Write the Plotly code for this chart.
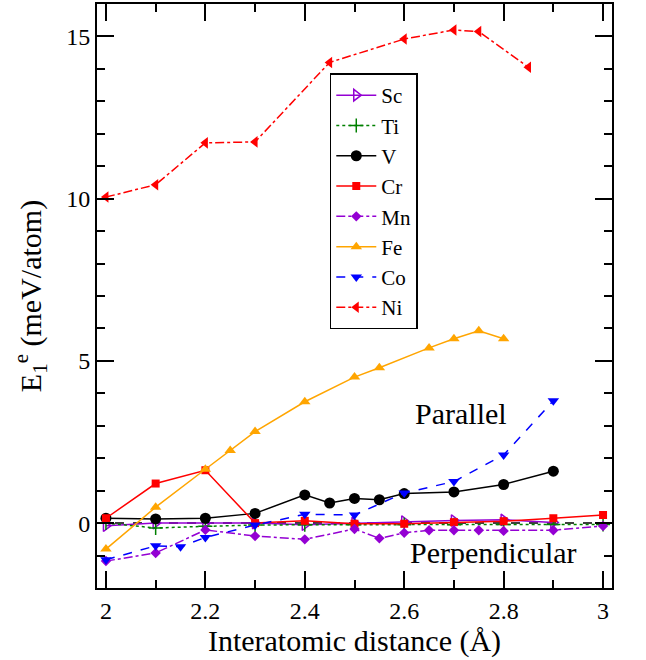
import plotly.graph_objects as go

# ---- data ----
sc_x = [2.0, 2.1, 2.2, 2.3, 2.4, 2.5, 2.6, 2.7, 2.8, 2.9]
sc_y = [-0.08, 0.0, 0.0, 0.0, -0.05, 0.0, 0.05, 0.08, 0.1, 0.02]

ti_x = [2.0, 2.1, 2.2, 2.3, 2.4, 2.5, 2.6, 2.7, 2.8, 2.9, 3.0]
ti_y = [0.0, -0.15, -0.1, -0.06, -0.05, -0.05, -0.05, -0.05, -0.04, -0.04, -0.04]

v_x = [2.0, 2.1, 2.2, 2.3, 2.4, 2.45, 2.5, 2.55, 2.6, 2.7, 2.8, 2.9]
v_y = [0.15, 0.13, 0.15, 0.3, 0.87, 0.62, 0.76, 0.72, 0.91, 0.96, 1.19, 1.6]

cr_x = [2.0, 2.1, 2.2, 2.3, 2.4, 2.5, 2.6, 2.7, 2.8, 2.9, 3.0]
cr_y = [0.15, 1.22, 1.63, 0.0, 0.07, -0.02, -0.02, 0.03, 0.06, 0.15, 0.25]

mn_x = [2.0, 2.1, 2.2, 2.3, 2.4, 2.5, 2.55, 2.6, 2.65, 2.7, 2.75, 2.8, 2.9, 3.0]
mn_y = [-1.17, -0.92, -0.21, -0.4, -0.5, -0.18, -0.47, -0.3, -0.22, -0.22, -0.22, -0.24, -0.22, -0.09]

fe_x = [2.0, 2.1, 2.2, 2.25, 2.3, 2.4, 2.5, 2.55, 2.65, 2.7, 2.75, 2.8]
fe_y = [-0.8, 0.49, 1.66, 2.24, 2.82, 3.74, 4.5, 4.79, 5.4, 5.68, 5.93, 5.68]

co_x = [2.0, 2.1, 2.15, 2.2, 2.3, 2.4, 2.5, 2.6, 2.7, 2.8, 2.9]
co_y = [-1.13, -0.7, -0.73, -0.44, -0.06, 0.27, 0.25, 0.93, 1.28, 2.1, 3.77]

ni_x = [2.0, 2.1, 2.2, 2.3, 2.45, 2.6, 2.7, 2.75, 2.85]
ni_y = [10.05, 10.43, 11.72, 11.75, 14.2, 14.92, 15.2, 15.15, 14.05]

FONT = "Liberation Serif"

series = [
    ("Sc", sc_x, sc_y, "#9400D3", "solid", "triangle-right-open", 10),
    ("Ti", ti_x, ti_y, "#008000", "dot", "cross-thin-open", 10),
    ("V", v_x, v_y, "#000000", "solid", "circle", 11),
    ("Cr", cr_x, cr_y, "#FF0000", "solid", "square", 8),
    ("Mn", mn_x, mn_y, "#9400D3", "dashdot", "diamond", 8),
    ("Fe", fe_x, fe_y, "#FFA500", "solid", "triangle-up", 10),
    ("Co", co_x, co_y, "#0000FF", "dash", "triangle-down", 10),
    ("Ni", ni_x, ni_y, "#FF0000", "dashdot", "triangle-left", 10),
]

fig = go.Figure()

fig.add_hline(y=0, line=dict(color="black", width=1.5, dash="dash"), layer="below")

for name, xs, ys, col, dash, sym, size in series:
    mk = dict(symbol=sym, size=size, color=col)
    if sym.endswith("open"):
        mk["line"] = dict(color=col, width=1.5)
    fig.add_trace(go.Scatter(
        x=xs, y=ys, name=name, mode="lines+markers",
        line=dict(color=col, width=1.5, dash=dash),
        marker=mk,
    ))

fig.add_annotation(x=2.714, y=3.37, text="Parallel", showarrow=False,
                   font=dict(family=FONT, size=30, color="black"))
fig.add_annotation(x=2.78, y=-0.92, text="Perpendicular", showarrow=False,
                   font=dict(family=FONT, size=30, color="black"))

axis_common = dict(
    showline=True, linecolor="black", linewidth=2, mirror="allticks",
    ticks="inside", ticklen=17, tickwidth=1.5, tickcolor="black",
    showgrid=False, zeroline=False,
    tickfont=dict(family=FONT, size=24, color="black"),
)

fig.update_xaxes(
    range=[1.982, 3.018], tickmode="array", tickvals=[2, 2.2, 2.4, 2.6, 2.8, 3],
    ticktext=["2", "2.2", "2.4", "2.6", "2.8", "3"],
    minor=dict(ticks="inside", ticklen=8, tickwidth=1.5, tickcolor="black", dtick=0.1, tick0=2),
    title=dict(text="Interatomic distance (Å)", font=dict(family=FONT, size=30, color="black"), standoff=4),
    **axis_common,
)
fig.update_yaxes(
    range=[-2, 16], tickmode="array", tickvals=[0, 5, 10, 15],
    minor=dict(ticks="inside", ticklen=8, tickwidth=1.5, tickcolor="black", dtick=1, tick0=0),
    title=dict(text="E<sub>1</sub><sup>e</sup> (meV/atom)", font=dict(family=FONT, size=30, color="black"), standoff=16),
    **axis_common,
)

fig.update_layout(
    width=646, height=660,
    margin=dict(l=97, r=34, t=2, b=72),
    plot_bgcolor="white", paper_bgcolor="white",
    font=dict(family=FONT, color="black"),
    legend=dict(
        x=0.452, y=0.881, xanchor="left", yanchor="top",
        bordercolor="black", borderwidth=1.5, bgcolor="white",
        font=dict(family=FONT, size=21, color="black"),
        tracegroupgap=0, itemwidth=40,
    ),
)

fig.write_html("out.html", config={"displayModeBar": False},
               post_script="document.body.style.margin='0px';")
